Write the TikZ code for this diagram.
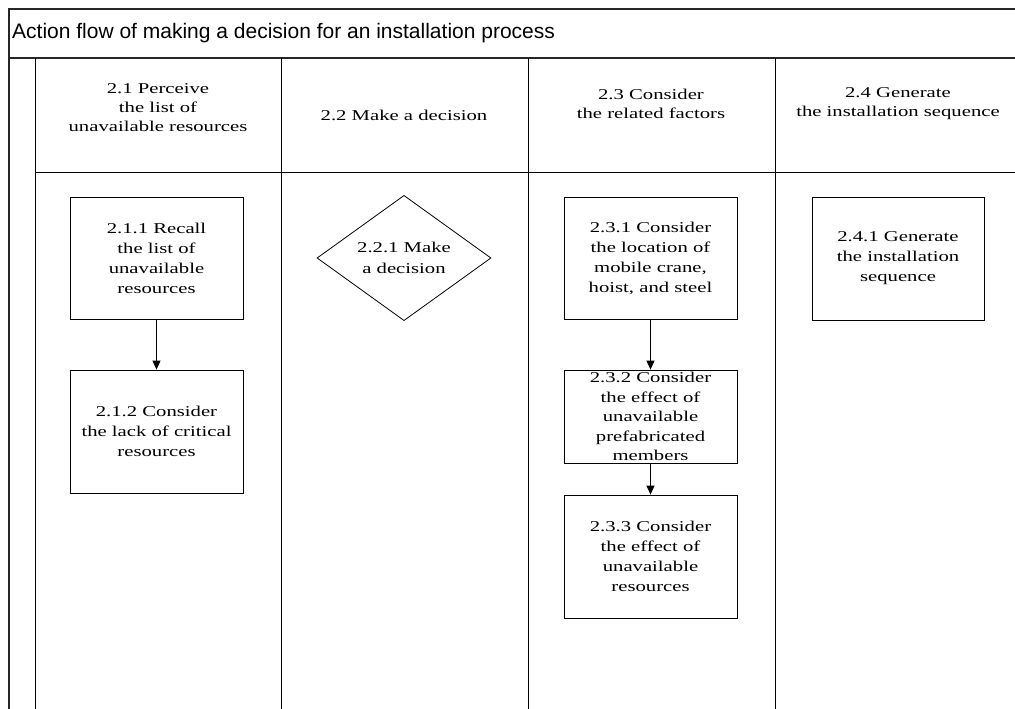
\documentclass[tikz,border=0pt]{standalone}
\usepackage{fontspec}
\setmainfont{Liberation Serif}[FakeStretch=1.38]
\newfontfamily\titlefont{Liberation Sans}
\usetikzlibrary{arrows.meta,shapes.geometric}
\begin{document}
\begin{tikzpicture}[x=1pt,y=-1pt,
  frameline/.style={line width=1.2pt,draw=black!85},
  laneline/.style={line width=0.9pt,draw=black},
  lanehead/.style={align=center,font=\fontsize{15}{19}\selectfont,inner sep=0pt},
  stepbox/.style={draw,line width=0.8pt,align=center,
    font=\fontsize{15}{20}\selectfont,inner sep=0pt},
  choice/.style={draw,diamond,line width=0.8pt,align=center,
    font=\fontsize{15}{21}\selectfont,inner sep=0pt},
  flow/.style={line width=0.8pt,-{Triangle[width=8pt,length=9pt]}}]
\useasboundingbox (0,0) rectangle (1015,709);
% pool frame and lane separators
\draw[frameline] (1015,9) -- (9,9) -- (9,709);
\draw[frameline] (9,58) -- (1015,58);
\draw[laneline] (35,58) -- (35,709);
\draw[laneline] (35,172) -- (1015,172);
\foreach \xx in {281,528,775} \draw[laneline] (\xx,58) -- (\xx,709);
% pool title
\node[anchor=west,inner sep=0pt,font=\titlefont\fontsize{21}{24}\selectfont] (title) at (12,33)
  {Action flow of making a decision for an installation process};
% lane headers
\node[lanehead] (h1) at (158,108) {2.1 Perceive\\the list of\\unavailable resources};
\node[lanehead] (h2) at (404,115) {2.2 Make a decision};
\node[lanehead] (h3) at (651,104) {2.3 Consider\\the related factors};
\node[lanehead] (h4) at (898,104) {2.4 Generate\\the installation sequence};
% activities
\node[stepbox,minimum width=173pt,minimum height=122pt] (a1) at (156.5,258) {2.1.1 Recall\\the list of\\unavailable\\resources};
\node[stepbox,minimum width=173pt,minimum height=123pt] (a2) at (156.5,431.5) {2.1.2 Consider\\the lack of critical\\resources};
\node[choice,minimum width=174pt,minimum height=123pt] (d1) at (404,258) {2.2.1 Make\\a decision};
\node[stepbox,minimum width=173pt,minimum height=122pt] (c1) at (650.5,258) {2.3.1 Consider\\the location of\\mobile crane,\\hoist, and steel};
\node[stepbox,minimum width=173pt,minimum height=93pt,font=\fontsize{15}{19.5}\selectfont] (c2) at (650.5,416.5) {2.3.2 Consider\\the effect of\\unavailable\\prefabricated\\members};
\node[stepbox,minimum width=173pt,minimum height=123pt] (c3) at (650.5,556.5) {2.3.3 Consider\\the effect of\\unavailable\\resources};
\node[stepbox,minimum width=172pt,minimum height=123pt] (g1) at (898,258.5) {2.4.1 Generate\\the installation\\sequence};
% flows
\draw[flow] (a1) -- (a2);
\draw[flow] (c1) -- (c2);
\draw[flow] (c2) -- (c3);
\end{tikzpicture}
\end{document}
